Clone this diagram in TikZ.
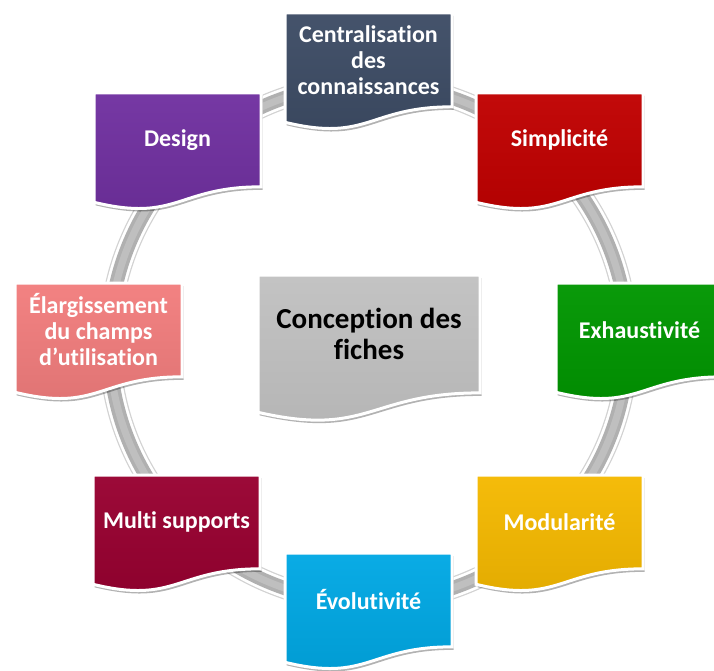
\documentclass[tikz,border=0pt]{standalone}
\usepackage{fontspec}
\setmainfont{Carlito}[Ligatures=CommonOff]
\usetikzlibrary{shadows}

\definecolor{slate}{RGB}{61,76,101}
\definecolor{brick}{RGB}{192,0,0}
\definecolor{leaf}{RGB}{0,150,0}
\definecolor{amber}{RGB}{245,185,0}
\definecolor{sky}{RGB}{0,168,228}
\definecolor{wine}{RGB}{152,0,48}
\definecolor{salmon}{RGB}{242,125,125}
\definecolor{grape}{RGB}{112,48,160}
\definecolor{ash}{RGB}{190,190,190}

% document-shaped card: top-left corner, width, height
\newcommand{\card}[4]{(#1,#2) -- ({#1+#3},#2) -- ({#1+#3},{#2+0.802*#4})
  .. controls ({#1+0.5*#3},{#2+0.802*#4}) and ({#1+0.5*#3},{#2+1.1075*#4}) .. (#1,{#2+0.934*#4}) -- cycle}

\begin{document}
\begin{tikzpicture}[x=1pt, y=-1pt,
  card/.style={draw=white, line width=3pt,
    drop shadow={opacity=0.3, fill=black, shadow xshift=1.5pt, shadow yshift=-3pt}},
  cardtext/.style={align=center, text=white, font=\bfseries\fontsize{24}{26}\selectfont}]
\useasboundingbox (0,0) rectangle (714,671);

% ring
\coordinate (ringcentre) at (368.5,343);
\draw[gray!35, line width=22pt] (ringcentre) circle (259pt);
\draw[white, line width=19.5pt] (ringcentre) circle (259pt);
\draw[gray!62, line width=14pt] (ringcentre) circle (259pt);
\draw[gray!50, line width=7pt] (ringcentre) circle (259pt);

% cards round the ring
\foreach \nm/\x/\y/\col/\txt in {
  central/285/13/slate/{Centralisation\\des\\connaissances},
  simple/476/93/brick/Simplicité,
  exhaust/556/283/leaf/Exhaustivité,
  module/476/475/amber/Modularité,
  evol/285/553/sky/Évolutivité,
  multi/93/475/wine/Multi supports,
  wide/15/283/salmon/{Élargissement\\du champs\\d’utilisation},
  design/94/93/grape/Design}
{
  \path[card, top color=\col!96!white, bottom color=\col!92!black] \card{\x}{\y}{167}{117};
  \node[cardtext] (\nm) at ({\x+83.5},{\y+47}) {\txt};
}

% centre card
\path[card, top color=ash!92!white, bottom color=ash!95!black] \card{258}{275}{222}{147};
\node[align=center, font=\bfseries\fontsize{29}{31}\selectfont] (hub) at (369,334) {Conception des\\fiches};
\end{tikzpicture}
\end{document}
